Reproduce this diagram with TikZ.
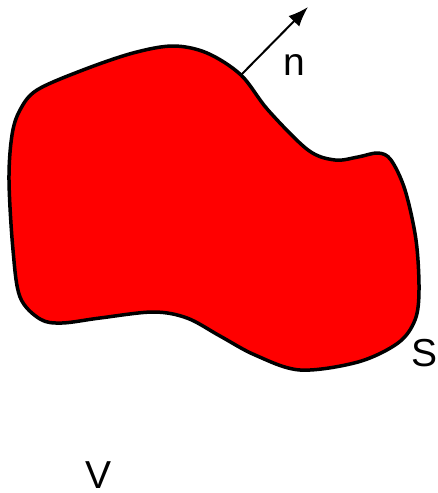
\documentclass[tikz,border=0pt]{standalone}
\usepackage{fontspec}
\setmainfont{Liberation Sans}
\usetikzlibrary{arrows.meta}
\begin{document}
\begin{tikzpicture}[x=1pt,y=-1pt,
  lbl/.style={font=\fontsize{39}{42}\selectfont, inner sep=0pt}]
\useasboundingbox (0,0) rectangle (438,493);
\draw[line width=3.5pt, fill=red, line join=round]
  plot[smooth cycle, tension=0.55] coordinates {
  (13,250) (9,180) (12,135) (20,110) (37,90) (83,70) (133,53) (173,46) (207,53)
  (241,75) (268,110) (308,150) (335,160) (358,157) (378,153) (391,160) (405,190)
  (416,240) (419,290) (415,320) (398,343) (358,362) (300,370) (255,355)
  (220,336) (187,318) (153,312) (100,318) (62,323) (40,319) (20,297)};
\coordinate (base) at (241,75);
\coordinate (tip) at (308,7);
\draw[line width=2pt, -{Latex[length=20pt,width=15pt]}] (base) -- (tip);
\node[lbl] (n) at (294,65) {n};
\node[lbl] (S) at (425,353) {S};
\node[lbl] (V) at (99,475) {V};
\end{tikzpicture}
\end{document}
